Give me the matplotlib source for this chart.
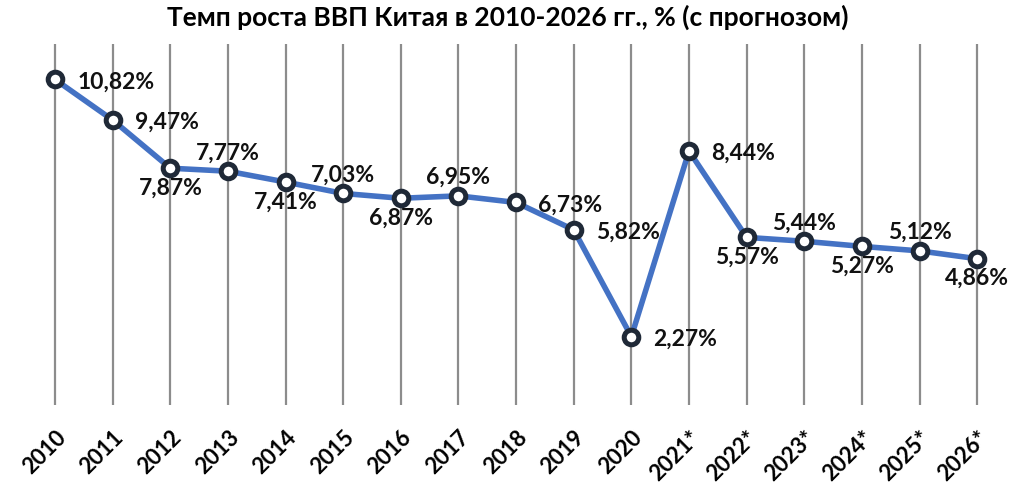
import matplotlib
matplotlib.use("Agg")
import matplotlib.pyplot as plt
import numpy as np

plt.rcParams["font.family"] = ["Lato", "DejaVu Sans"]

years = ["2010", "2011", "2012", "2013", "2014", "2015", "2016", "2017", "2018",
         "2019", "2020", "2021*", "2022*", "2023*", "2024*", "2025*", "2026*"]
growth = [10.82, 9.47, 7.87, 7.77, 7.41, 7.03, 6.87, 6.95, 6.73,
          5.82, 2.27, 8.44, 5.57, 5.44, 5.27, 5.12, 4.86]
# where each data label sits relative to its point
label_pos = ["right", "right", "below", "above", "below", "above", "below", "above", "right",
             "right", "right", "right", "below", "above", "below", "above", "below"]

LINE_C = "#4472C4"
MARK_C = "#1F2937"
GRID_C = "#8C8C8C"

fig = plt.figure(figsize=(10.09, 4.89), dpi=100)
ax = fig.add_axes([0.026, 0.170, 0.971, 0.738])

x = np.arange(len(years))
for xi in x:
    ax.axvline(xi, color=GRID_C, linewidth=1.6, zorder=0)

ax.plot(x, growth, color=LINE_C, linewidth=4, zorder=2,
        marker="o", markersize=10.5, markerfacecolor="white",
        markeredgecolor=MARK_C, markeredgewidth=3.6)

offsets = {"right": (16, -1, "left", "center"),
           "above": (0, 14, "center", "center"),
           "below": (0, -13.5, "center", "center")}
for xi, v, pos in zip(x, growth, label_pos):
    dx, dy, ha, va = offsets[pos]
    ax.annotate(f"{v:.2f}".replace(".", ",") + "%", (xi, v),
                xytext=(dx, dy), textcoords="offset points",
                ha=ha, va=va, fontsize=16.5, fontweight="bold", color="#111111")

ax.set_xlim(-0.5, len(years) - 0.5)
ax.set_ylim(0, 12)
ax.set_yticks([])
ax.set_xticks(x)
ax.set_xticklabels(years, rotation=45, ha="right", rotation_mode="anchor",
                   fontsize=16, fontweight="bold")
ax.tick_params(axis="x", length=0, pad=15)
for s in ax.spines.values():
    s.set_visible(False)

fig.suptitle("Темп роста ВВП Китая в 2010-2026 гг., % (с прогнозом)",
             x=0.503, y=0.99, fontsize=19, fontweight="bold", va="top")

fig.savefig("out.png", dpi=100)
